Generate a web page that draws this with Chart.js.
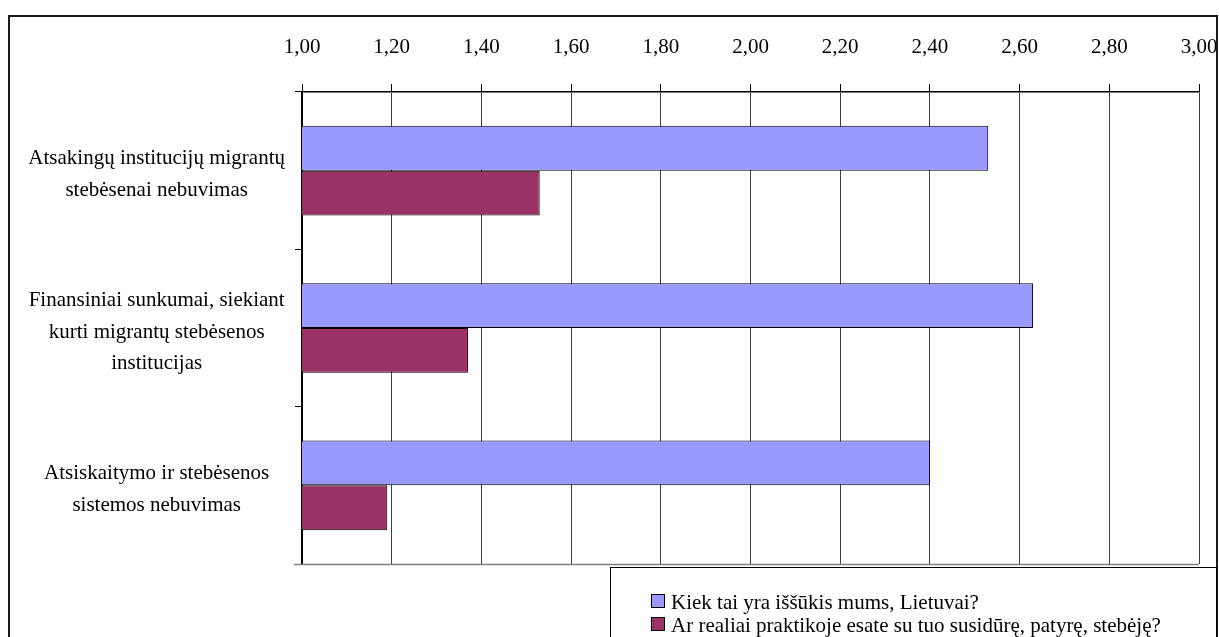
<!DOCTYPE html>
<html>
<head>
<meta charset="utf-8">
<script src="https://cdn.jsdelivr.net/npm/chart.js@4.4.1/dist/chart.umd.min.js"></script>
<style>
  body { margin: 0; background: #fff; }
  #wrap { width: 1219px; height: 637px; }
</style>
</head>
<body>
<div id="wrap"><canvas id="chart" width="1219" height="637"></canvas></div>
<script>
const categories = [
  ['Atsakingų institucijų migrantų', 'stebėsenai nebuvimas'],
  ['Finansiniai sunkumai, siekiant', 'kurti migrantų stebėsenos', 'institucijas'],
  ['Atsiskaitymo ir stebėsenos', 'sistemos nebuvimas']
];
const seriesNames = ['Kiek tai yra iššūkis mums, Lietuvai?', 'Ar realiai praktikoje esate su tuo susidūrę, patyrę, stebėję?'];
const challengeValues = [2.53, 2.63, 2.40];
const practiceValues = [1.53, 1.37, 1.19];
const xTickLabels = ['1,00', '1,20', '1,40', '1,60', '1,80', '2,00', '2,20', '2,40', '2,60', '2,80', '3,00'];

const FONT = 'Liberation Serif, Times New Roman, serif';

// outer frame, bottom plot line and the boxed legend
const framePlugin = {
  id: 'frame',
  afterDraw(chart) {
    const ctx = chart.ctx;
    const area = chart.chartArea;
    ctx.save();
    ctx.strokeStyle = '#808080';
    ctx.lineWidth = 1.5;
    ctx.beginPath();
    ctx.moveTo(area.left - 8, area.bottom + 0.5);
    ctx.lineTo(area.right, area.bottom + 0.5);
    ctx.stroke();

    ctx.strokeStyle = '#1a1a1a';
    ctx.lineWidth = 2;
    ctx.strokeRect(9, 16, 1208, 700);

    // legend
    ctx.lineWidth = 1;
    ctx.strokeStyle = '#000';
    ctx.fillStyle = '#fff';
    ctx.fillRect(610.5, 567.5, 606, 80);
    ctx.strokeRect(610.5, 567.5, 606, 80);
    ctx.font = '21px ' + FONT;
    ctx.textBaseline = 'middle';
    chart.data.datasets.forEach((ds, i) => {
      const y = 602 + i * 23;
      ctx.fillStyle = ds.backgroundColor;
      ctx.fillRect(651.5, y - 7.5, 13, 13);
      ctx.strokeStyle = '#000';
      ctx.strokeRect(651.5, y - 7.5, 13, 13);
      ctx.fillStyle = '#000';
      ctx.fillText(ds.label, 671, y + 1);
    });
    ctx.restore();
  }
};

new Chart(document.getElementById('chart'), {
  type: 'bar',
  data: {
    labels: categories,
    datasets: [
      {
        label: seriesNames[0],
        data: challengeValues,
        backgroundColor: '#9999FF',
        borderColor: '#000',
        borderWidth: 1
      },
      {
        label: seriesNames[1],
        data: practiceValues,
        backgroundColor: '#993366',
        borderColor: '#000',
        borderWidth: 1
      }
    ]
  },
  options: {
    indexAxis: 'y',
    responsive: false,
    animation: false,
    layout: {
      padding: { left: 10, right: 20, top: 16, bottom: 73 }
    },
    categoryPercentage: 0.57,
    barPercentage: 1.0,
    scales: {
      x: {
        position: 'top',
        min: 1,
        max: 3,
        ticks: {
          stepSize: 0.2,
          color: '#000',
          padding: 24,
          font: { family: FONT, size: 21 },
          maxRotation: 0,
          autoSkip: false,
          callback: (v, i) => xTickLabels[i]
        },
        grid: {
          color: '#404040',
          lineWidth: 1,
          tickLength: 8,
          tickColor: '#000'
        },
        border: { color: '#000', width: 1.5 },
        afterFit: (scale) => {
          scale.height = 76;
          scale.paddingLeft = 0;
          scale.paddingRight = 0;
        }
      },
      y: {
        ticks: {
          color: '#000',
          crossAlign: 'center',
          padding: 10,
          labelOffset: 4,
          font: { family: FONT, size: 21, lineHeight: 1.5 }
        },
        grid: {
          drawOnChartArea: false,
          tickLength: 7,
          tickColor: '#000',
          offset: true
        },
        border: { color: '#000', width: 2 },
        afterFit: (scale) => { scale.width = 292; }
      }
    },
    plugins: {
      legend: { display: false },
      tooltip: { enabled: false }
    }
  },
  plugins: [framePlugin]
});
</script>
</body>
</html>
